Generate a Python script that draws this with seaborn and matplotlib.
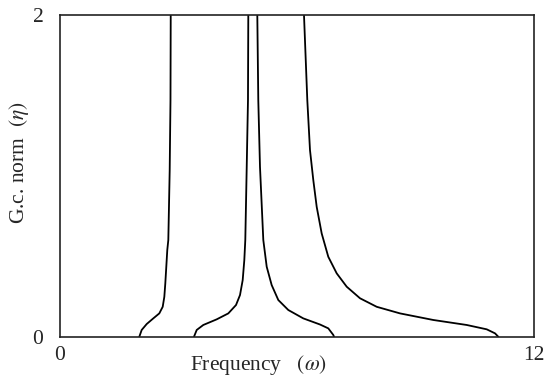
import matplotlib
matplotlib.use("Agg")
import matplotlib.pyplot as plt
import seaborn as sns
import pandas as pd

# Curve 1 (leftmost branch)
w1 = [2.008, 2.068, 2.195, 2.362, 2.514, 2.600, 2.641, 2.666, 2.691, 2.716, 2.742, 2.777, 2.797, 2.803]
e1 = [0.0, 0.042, 0.079, 0.114, 0.145, 0.186, 0.248, 0.332, 0.435, 0.539, 0.601, 1.035, 1.470, 2.0]
# Curve 2 (rising towards central peak)
w2 = [3.392, 3.461, 3.628, 3.967, 4.261, 4.456, 4.557, 4.625, 4.666, 4.691, 4.727, 4.759, 4.767]
e2 = [0.0, 0.042, 0.073, 0.108, 0.145, 0.197, 0.259, 0.352, 0.476, 0.601, 1.056, 1.470, 2.0]
# Curve 3 (falling from central peak)
w3 = [4.995, 5.020, 5.063, 5.147, 5.233, 5.359, 5.527, 5.780, 6.159, 6.582, 6.792, 6.919, 6.937]
e3 = [2.0, 1.470, 1.056, 0.601, 0.435, 0.321, 0.228, 0.166, 0.114, 0.076, 0.052, 0.011, 0.0]
# Curve 4 (rightmost long tail)
w4 = [6.177, 6.261, 6.329, 6.413, 6.499, 6.625, 6.792, 7.005, 7.258, 7.595, 8.018, 8.608, 9.451, 10.296, 10.803, 11.013, 11.096]
e4 = [2.0, 1.470, 1.160, 0.973, 0.807, 0.642, 0.497, 0.394, 0.311, 0.239, 0.186, 0.145, 0.104, 0.073, 0.046, 0.021, 0.0]

xticks = [0, 12]
yticks = [0, 2]

sns.set_style("white")
plt.rcParams['font.family'] = ['Liberation Serif', 'DejaVu Serif']
plt.rcParams['mathtext.fontset'] = 'stix'

fig = plt.figure(figsize=(5.5, 3.8), dpi=100)
ax = fig.add_axes([0.1091, 0.1139, 0.8618, 0.8466])

for w, e in [(w1, e1), (w2, e2), (w3, e3), (w4, e4)]:
    df = pd.DataFrame({"w": w, "e": e})
    sns.lineplot(data=df, x="w", y="e", sort=False, estimator=None,
                 color="black", linewidth=1.3, ax=ax,
                 solid_joinstyle="round", solid_capstyle="round")

ax.set_xlim(0, 12)
ax.set_ylim(0, 2)
ax.set_xticks(xticks)
ax.set_yticks(yticks)
ax.set_xticklabels([str(t) for t in xticks], fontsize=15.5)
ax.set_yticklabels([str(t) for t in yticks], fontsize=15.5)
ax.tick_params(axis='x', length=0, pad=7)
ax.tick_params(axis='y', length=0, pad=12)
for s in ax.spines.values():
    s.set_color("#222222")
    s.set_linewidth(1.2)
    s.set_visible(True)

ax.set_xlabel(r"Frequency   $(\omega)$", fontsize=15.5)
ax.xaxis.set_label_coords(0.418, -0.05, transform=ax.transAxes)
ax.xaxis.label.set_verticalalignment('top')
ax.set_ylabel(r"G.c. norm  $(\eta)$", fontsize=15.5)
ax.yaxis.set_label_coords(-0.0865, 0.54, transform=ax.transAxes)
ax.yaxis.label.set_verticalalignment('center')

fig.savefig("out.png", dpi=100)
